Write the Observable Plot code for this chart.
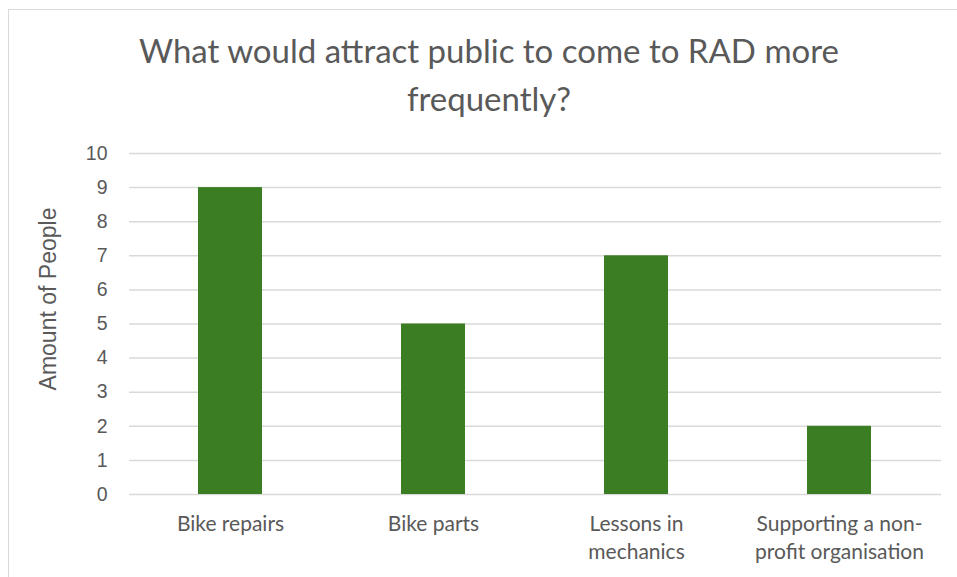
<!DOCTYPE html>
<html>
<head>
<meta charset="utf-8">
<script src="https://cdn.jsdelivr.net/npm/d3@7"></script>
<script src="https://cdn.jsdelivr.net/npm/@observablehq/plot@0.6"></script>
<style>
  html, body { margin: 0; padding: 0; background: #fff; }
  #page { position: relative; width: 957px; height: 577px; overflow: hidden; }
  #frame {
    position: absolute; left: 8px; top: 9px; width: 980px; height: 600px;
    border-top: 1.5px solid #d9d9d9; border-left: 1.5px solid #d9d9d9;
  }
  #title {
    position: absolute; top: 26px; left: 0; width: 978px;
    text-align: center; font-family: Lato, sans-serif; font-size: 33px;
    line-height: 48px; color: #595959;
  }
  #chart { position: absolute; top: 130px; left: 0; }
</style>
</head>
<body>
<div id="page">
  <div id="frame"></div>
  <div id="title">What would attract public to come to RAD more<br>frequently?</div>
  <div id="chart"></div>
</div>
<script>
// Survey answers: what would bring people back more often
const categories = ["Bike repairs", "Bike parts", "Lessons in mechanics", "Supporting a non-profit organisation"];
const people = [9, 5, 7, 2];
const tickLabels = ["Bike repairs", "Bike parts", "Lessons in\nmechanics", "Supporting a non-\nprofit organisation"];
const yTicks = [0, 1, 2, 3, 4, 5, 6, 7, 8, 9, 10];
const yTitle = ["Amount of People"];

const rows = categories.map((c, i) => ({category: c, people: people[i]}));
const labelOf = new Map(categories.map((c, i) => [c, tickLabels[i]]));

const chart = Plot.plot({
  width: 957,
  height: 447,
  marginTop: 23,
  marginBottom: 83,
  marginLeft: 129,
  marginRight: 16,
  style: {background: "transparent", color: "#595959"},
  x: {domain: categories, paddingInner: 0.684, paddingOuter: 0.342},
  y: {domain: [0, 10]},
  marks: [
    Plot.gridY(yTicks, {stroke: "#d9d9d9", strokeOpacity: 1, strokeWidth: 1.5}),
    Plot.barY(rows, {x: "category", y: "people", fill: "#3A7D22"}),
    Plot.axisY({
      ticks: yTicks, tickSize: 0, tickPadding: 22,
      fontSize: 19.5, fontFamily: "Liberation Sans, Arial, sans-serif", fill: "#595959",
      label: null
    }),
    // rotated axis title, sitting a little above the frame's middle
    Plot.text(yTitle, {
      frameAnchor: "left", textAnchor: "middle", lineAnchor: "middle",
      rotate: -90, dx: -81, dy: -25,
      fontSize: 23, fontFamily: "Liberation Sans, Arial, sans-serif", fill: "#595959"
    }),
    Plot.axisX({
      tickSize: 0, tickPadding: 17, tickFormat: d => labelOf.get(d),
      fontSize: 21, fontFamily: "Lato, sans-serif", fill: "#595959", lineHeight: 1.33,
      label: null
    })
  ]
});
document.getElementById("chart").appendChild(chart);
</script>
</body>
</html>
